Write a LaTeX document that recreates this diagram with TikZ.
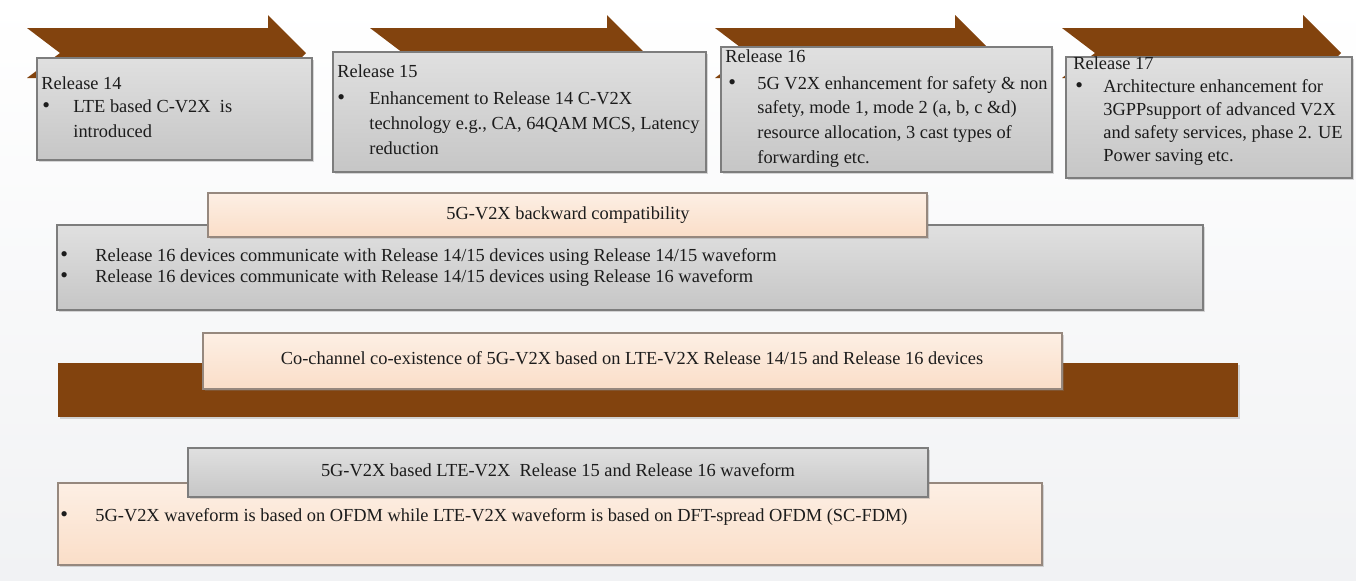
\documentclass[tikz,border=0pt]{standalone}
\usepackage{fontspec}
\setmainfont{Liberation Serif}
\usetikzlibrary{shadows}

\definecolor{chev}{RGB}{130,67,14}
\definecolor{boxtop}{RGB}{224,224,224}
\definecolor{boxbot}{RGB}{198,198,198}
\definecolor{boxline}{RGB}{125,125,125}
\definecolor{peachtop}{RGB}{253,239,228}
\definecolor{peachbot}{RGB}{250,222,200}
\definecolor{peachline}{RGB}{150,136,126}
\definecolor{ink}{RGB}{28,28,28}
\definecolor{bgbot}{RGB}{241,242,244}

\tikzset{
  chevron/.style={fill=chev, draw=none},
  greybox/.style={top color=boxtop, bottom color=boxbot, draw=boxline, line width=0.6pt,
    drop shadow={shadow xshift=0.8pt, shadow yshift=-0.8pt, opacity=0.3}},
  peachbox/.style={top color=peachtop, bottom color=peachbot, draw=peachline, line width=0.6pt,
    drop shadow={shadow xshift=0.8pt, shadow yshift=-0.8pt, opacity=0.3}},
  brownbar/.style={fill=chev, draw=none,
    drop shadow={shadow xshift=0.8pt, shadow yshift=-0.8pt, opacity=0.3}},
  txt/.style={inner sep=0pt, text=ink, font=\fontsize{9.2}{11}\selectfont,
    text height=6.4pt, text depth=1.8pt, anchor=west},
  ctxt/.style={txt, anchor=center},
  dot/.style={txt, font=\fontsize{11}{11}\selectfont},
}

\begin{document}
\begin{tikzpicture}[x=0.5pt, y=-0.5pt]
  % page
  \useasboundingbox (0,0) rectangle (1356,580);
  \fill[top color=white, bottom color=bgbot] (0,0) rectangle (1356,580);

  % release chevrons
  \fill[chevron] (27,28) -- (268,28) -- (268,15) -- (306,53) -- (268,91) -- (268,78) -- (27,78) -- (60,53) -- cycle;
  \fill[chevron] (370,28) -- (607,28) -- (607,15) -- (645,53) -- (607,91) -- (607,78) -- (370,78) -- (403,53) -- cycle;
  \fill[chevron] (715,28) -- (955,28) -- (955,15) -- (993,53) -- (955,91) -- (955,78) -- (715,78) -- (748,53) -- cycle;
  \fill[chevron] (1062,28) -- (1303,28) -- (1303,15) -- (1341,53) -- (1303,91) -- (1303,78) -- (1062,78) -- (1095,53) -- cycle;

  % release boxes
  \draw[greybox] (37,58) rectangle (312,160);
  \draw[greybox] (333,52) rectangle (706,172);
  \draw[greybox] (721,47) rectangle (1052,172);
  \draw[greybox] (1066,57) rectangle (1352,178);

  % Release 14
  \node[txt] (r14) at (41,85) {Release 14};
  \node[dot] (r14b) at (42,108) {\textbullet};
  \node[txt] (r14a) at (73,108) {LTE based C-V2X\ \ is};
  \node[txt] (r14c) at (73,133) {introduced};

  % Release 15
  \node[txt] (r15) at (337,73) {Release 15};
  \node[dot] (r15b) at (337,100) {\textbullet};
  \node[txt] (r15a) at (369,100) {Enhancement to Release 14 C-V2X};
  \node[txt] (r15c) at (369,125) {technology e.g., CA, 64QAM MCS, Latency};
  \node[txt] (r15d) at (369,150) {reduction};

  % Release 16
  \node[txt] (r16) at (725,58) {Release 16};
  \node[dot] (r16b) at (728,85) {\textbullet};
  \node[txt] (r16a) at (757,85) {5G V2X enhancement for safety \& non};
  \node[txt] (r16c) at (757,109) {safety, mode 1, mode 2 (a, b, c \&d)};
  \node[txt] (r16d) at (757,134) {resource allocation, 3 cast types of};
  \node[txt] (r16e) at (757,159) {forwarding etc.};

  % Release 17
  \node[txt] (r17) at (1073,65) {Release 17};
  \node[dot] (r17b) at (1075,88) {\textbullet};
  \node[txt] (r17a) at (1103,88) {Architecture enhancement for};
  \node[txt] (r17c) at (1103,111) {3GPPsupport of advanced V2X};
  \node[txt] (r17d) at (1103,134) {and safety services, phase 2. UE};
  \node[txt] (r17e) at (1103,157) {Power saving etc.};

  % backward compatibility
  \draw[greybox] (57,225) rectangle (1203,310);
  \draw[peachbox] (208,193) rectangle (927,237);
  \node[ctxt] (bc) at (568,215) {5G-V2X backward compatibility};
  \node[dot] (bc1b) at (60,257) {\textbullet};
  \node[txt] (bc1) at (95,257) {Release 16 devices communicate with Release 14/15 devices using Release 14/15 waveform};
  \node[dot] (bc2b) at (60,278) {\textbullet};
  \node[txt] (bc2) at (95,278) {Release 16 devices communicate with Release 14/15 devices using Release 16 waveform};

  % co-channel co-existence
  \fill[brownbar] (58,363) rectangle (1238,417);
  \draw[peachbox] (203,333) rectangle (1062,389);
  \node[ctxt] (cc) at (632,360) {Co-channel co-existence of 5G-V2X based on LTE-V2X Release 14/15 and Release 16 devices};

  % waveform
  \draw[peachbox] (58,483) rectangle (1042,565);
  \draw[greybox] (188,448) rectangle (928,497);
  \node[ctxt] (wf) at (558,472) {5G-V2X based LTE-V2X\ \ Release 15 and Release 16 waveform};
  \node[dot] (wfb) at (60,517) {\textbullet};
  \node[txt] (wf1) at (95,517) {5G-V2X waveform is based on OFDM while LTE-V2X waveform is based on DFT-spread OFDM (SC-FDM)};
\end{tikzpicture}
\end{document}
